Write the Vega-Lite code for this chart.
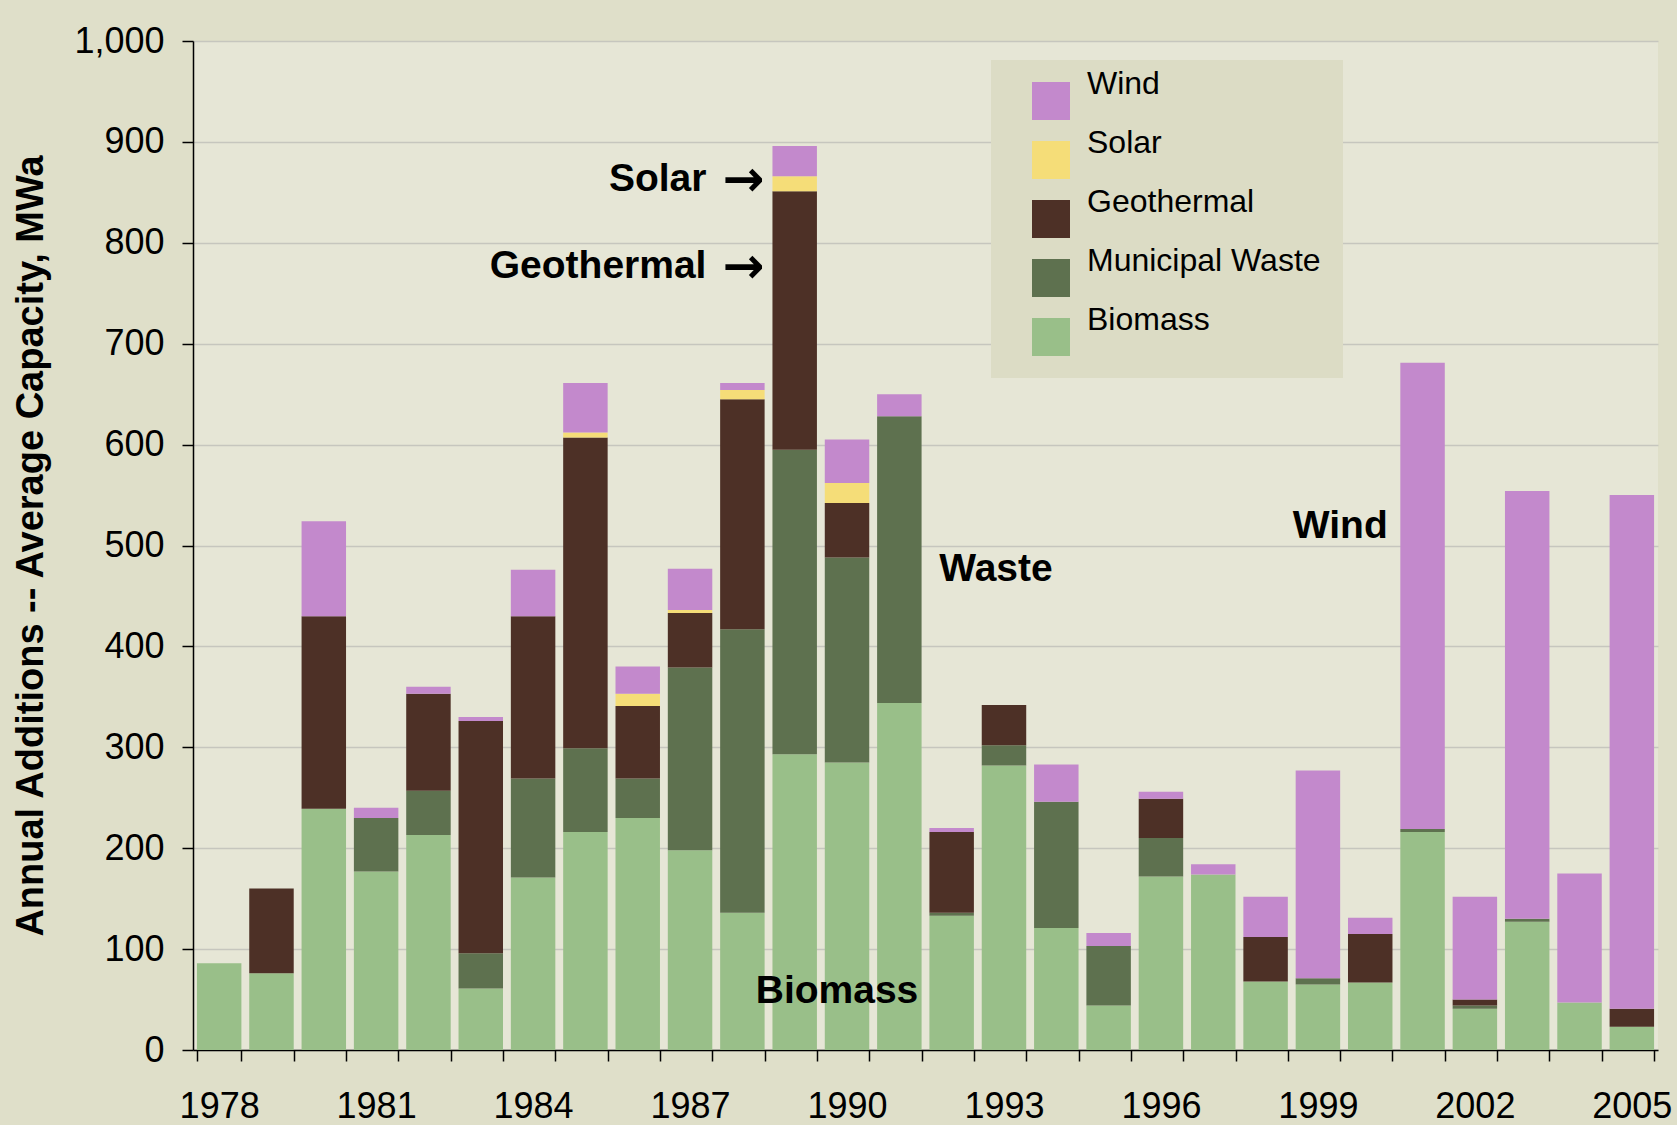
{
  "$schema": "https://vega.github.io/schema/vega-lite/v6.json",
  "width": 1465,
  "height": 1009,
  "autosize": {"type": "none"},
  "padding": {"left": 193, "top": 41, "right": 19, "bottom": 75},
  "background": "#dfdfc9",
  "config": {
    "view": {"fill": "#e6e6d6", "stroke": null},
    "font": "Liberation Sans",
    "axis": {"labelFont": "Liberation Sans", "titleFont": "Liberation Sans", "labelColor": "black", "titleColor": "black"}
  },
  "datasets": {
    "energy": [
      {"year": "1978", "source": "Biomass", "value": 86},
      {"year": "1979", "source": "Biomass", "value": 76},
      {"year": "1979", "source": "Geothermal", "value": 84},
      {"year": "1980", "source": "Biomass", "value": 239},
      {"year": "1980", "source": "Geothermal", "value": 191},
      {"year": "1980", "source": "Wind", "value": 94},
      {"year": "1981", "source": "Biomass", "value": 177},
      {"year": "1981", "source": "Municipal Waste", "value": 53},
      {"year": "1981", "source": "Wind", "value": 10},
      {"year": "1982", "source": "Biomass", "value": 213},
      {"year": "1982", "source": "Municipal Waste", "value": 44},
      {"year": "1982", "source": "Geothermal", "value": 96},
      {"year": "1982", "source": "Wind", "value": 7},
      {"year": "1983", "source": "Biomass", "value": 61},
      {"year": "1983", "source": "Municipal Waste", "value": 35},
      {"year": "1983", "source": "Geothermal", "value": 230},
      {"year": "1983", "source": "Wind", "value": 4},
      {"year": "1984", "source": "Biomass", "value": 171},
      {"year": "1984", "source": "Municipal Waste", "value": 98},
      {"year": "1984", "source": "Geothermal", "value": 161},
      {"year": "1984", "source": "Wind", "value": 46},
      {"year": "1985", "source": "Biomass", "value": 216},
      {"year": "1985", "source": "Municipal Waste", "value": 83},
      {"year": "1985", "source": "Geothermal", "value": 308},
      {"year": "1985", "source": "Solar", "value": 5},
      {"year": "1985", "source": "Wind", "value": 49},
      {"year": "1986", "source": "Biomass", "value": 230},
      {"year": "1986", "source": "Municipal Waste", "value": 39},
      {"year": "1986", "source": "Geothermal", "value": 72},
      {"year": "1986", "source": "Solar", "value": 12},
      {"year": "1986", "source": "Wind", "value": 27},
      {"year": "1987", "source": "Biomass", "value": 198},
      {"year": "1987", "source": "Municipal Waste", "value": 181},
      {"year": "1987", "source": "Geothermal", "value": 54},
      {"year": "1987", "source": "Solar", "value": 3},
      {"year": "1987", "source": "Wind", "value": 41},
      {"year": "1988", "source": "Biomass", "value": 136},
      {"year": "1988", "source": "Municipal Waste", "value": 281},
      {"year": "1988", "source": "Geothermal", "value": 228},
      {"year": "1988", "source": "Solar", "value": 9},
      {"year": "1988", "source": "Wind", "value": 7},
      {"year": "1989", "source": "Biomass", "value": 293},
      {"year": "1989", "source": "Municipal Waste", "value": 302},
      {"year": "1989", "source": "Geothermal", "value": 256},
      {"year": "1989", "source": "Solar", "value": 15},
      {"year": "1989", "source": "Wind", "value": 30},
      {"year": "1990", "source": "Biomass", "value": 285},
      {"year": "1990", "source": "Municipal Waste", "value": 203},
      {"year": "1990", "source": "Geothermal", "value": 54},
      {"year": "1990", "source": "Solar", "value": 20},
      {"year": "1990", "source": "Wind", "value": 43},
      {"year": "1991", "source": "Biomass", "value": 344},
      {"year": "1991", "source": "Municipal Waste", "value": 284},
      {"year": "1991", "source": "Wind", "value": 22},
      {"year": "1992", "source": "Biomass", "value": 133},
      {"year": "1992", "source": "Municipal Waste", "value": 3},
      {"year": "1992", "source": "Geothermal", "value": 80},
      {"year": "1992", "source": "Wind", "value": 4},
      {"year": "1993", "source": "Biomass", "value": 282},
      {"year": "1993", "source": "Municipal Waste", "value": 20},
      {"year": "1993", "source": "Geothermal", "value": 40},
      {"year": "1994", "source": "Biomass", "value": 121},
      {"year": "1994", "source": "Municipal Waste", "value": 125},
      {"year": "1994", "source": "Wind", "value": 37},
      {"year": "1995", "source": "Biomass", "value": 44},
      {"year": "1995", "source": "Municipal Waste", "value": 59},
      {"year": "1995", "source": "Wind", "value": 13},
      {"year": "1996", "source": "Biomass", "value": 172},
      {"year": "1996", "source": "Municipal Waste", "value": 38},
      {"year": "1996", "source": "Geothermal", "value": 39},
      {"year": "1996", "source": "Wind", "value": 7},
      {"year": "1997", "source": "Biomass", "value": 174},
      {"year": "1997", "source": "Wind", "value": 10},
      {"year": "1998", "source": "Biomass", "value": 68},
      {"year": "1998", "source": "Geothermal", "value": 44},
      {"year": "1998", "source": "Wind", "value": 40},
      {"year": "1999", "source": "Biomass", "value": 65},
      {"year": "1999", "source": "Municipal Waste", "value": 6},
      {"year": "1999", "source": "Wind", "value": 206},
      {"year": "2000", "source": "Biomass", "value": 67},
      {"year": "2000", "source": "Geothermal", "value": 48},
      {"year": "2000", "source": "Wind", "value": 16},
      {"year": "2001", "source": "Biomass", "value": 216},
      {"year": "2001", "source": "Municipal Waste", "value": 3},
      {"year": "2001", "source": "Wind", "value": 462},
      {"year": "2002", "source": "Biomass", "value": 41},
      {"year": "2002", "source": "Municipal Waste", "value": 3},
      {"year": "2002", "source": "Geothermal", "value": 6},
      {"year": "2002", "source": "Wind", "value": 102},
      {"year": "2003", "source": "Biomass", "value": 127},
      {"year": "2003", "source": "Municipal Waste", "value": 3},
      {"year": "2003", "source": "Wind", "value": 424},
      {"year": "2004", "source": "Biomass", "value": 47},
      {"year": "2004", "source": "Wind", "value": 128},
      {"year": "2005", "source": "Biomass", "value": 23},
      {"year": "2005", "source": "Geothermal", "value": 18},
      {"year": "2005", "source": "Wind", "value": 509}
    ],
    "notes": [
      {"year": "1989", "value": 863, "label": "Solar"},
      {"year": "1989", "value": 777.5, "label": "Geothermal"},
      {"year": "1993", "value": 477, "label": "Waste"},
      {"year": "2000", "value": 519, "label": "Wind"},
      {"year": "1990", "value": 58, "label": "Biomass"}
    ]
  },
  "layer": [
    {
      "data": {"name": "energy"},
      "transform": [
        {"calculate": "indexof(['Biomass', 'Municipal Waste', 'Geothermal', 'Solar', 'Wind'], datum.source)", "as": "stackRank"}
      ],
      "mark": {"type": "bar"},
      "encoding": {
        "x": {
          "field": "year",
          "type": "ordinal",
          "scale": {"paddingInner": 0.15, "paddingOuter": 0.075},
          "axis": {
            "title": null,
            "labelAngle": 0,
            "labelFontSize": 36,
            "labelPadding": 28,
            "labelOverlap": false,
            "tickSize": 11,
            "tickBand": "extent",
            "tickColor": "black",
            "tickWidth": 1.5,
            "domainColor": "black",
            "domainWidth": 1.5,
            "grid": false,
            "labelExpr": "(+datum.value - 1978) % 3 == 0 ? datum.value : ''"
          }
        },
        "y": {
          "field": "value",
          "type": "quantitative",
          "stack": "zero",
          "scale": {"domain": [0, 1000], "nice": false},
          "axis": {
            "title": "Annual Additions -- Average Capacity, MWa",
            "titleFontSize": 38,
            "titleFontWeight": "bold",
            "titlePadding": 23,
            "labelFontSize": 36,
            "labelPadding": 18,
            "format": ",.0f",
            "values": [0, 100, 200, 300, 400, 500, 600, 700, 800, 900, 1000],
            "tickSize": 11,
            "tickColor": "black",
            "tickWidth": 1.5,
            "domainColor": "black",
            "domainWidth": 1.5,
            "gridColor": "#c6c6be",
            "gridWidth": 1.5
          }
        },
        "order": {"field": "stackRank", "type": "quantitative", "sort": "ascending"},
        "color": {
          "field": "source",
          "type": "nominal",
          "scale": {
            "domain": ["Wind", "Solar", "Geothermal", "Municipal Waste", "Biomass"],
            "range": ["#c389cc", "#f5dd78", "#4d3026", "#5e714f", "#99bf89"]
          },
          "legend": {
            "title": null,
            "orient": "none",
            "legendX": 798,
            "legendY": 19,
            "fillColor": "#dcdcc5",
            "padding": 22,
            "symbolType": "square",
            "symbolSize": 1444,
            "symbolStrokeWidth": 0,
            "symbolOpacity": 1,
            "symbolOffset": 19,
            "labelFontSize": 32,
            "labelFont": "Liberation Sans",
            "labelColor": "black",
            "labelBaseline": "bottom",
            "labelOffset": 17,
            "labelLimit": 400,
            "rowPadding": 7,
            "values": ["Wind", "Solar", "Geothermal", "Municipal Waste", "Biomass"]
          }
        }
      }
    },
    {
      "data": {"name": "notes"},
      "transform": [{"filter": "datum.label == 'Solar' || datum.label == 'Geothermal'"}],
      "mark": {"type": "text", "align": "right", "baseline": "middle", "dx": -66, "font": "Liberation Sans", "fontSize": 39, "fontWeight": "bold", "color": "black"},
      "encoding": {
        "x": {"field": "year", "type": "ordinal", "bandPosition": 0},
        "y": {"field": "value", "type": "quantitative"},
        "text": {"field": "label"}
      }
    },
    {
      "data": {"name": "notes"},
      "transform": [{"filter": "datum.label == 'Solar' || datum.label == 'Geothermal'"}],
      "mark": {"type": "text", "align": "right", "baseline": "middle", "dx": -8, "dy": 2, "font": "DejaVu Sans", "fontSize": 50, "fontWeight": "bold", "color": "black"},
      "encoding": {
        "x": {"field": "year", "type": "ordinal", "bandPosition": 0},
        "y": {"field": "value", "type": "quantitative"},
        "text": {"value": "→"}
      }
    },
    {
      "data": {"name": "notes"},
      "transform": [{"filter": "datum.label == 'Waste'"}],
      "mark": {"type": "text", "align": "center", "baseline": "middle", "dx": -8, "font": "Liberation Sans", "fontSize": 39, "fontWeight": "bold", "color": "black"},
      "encoding": {
        "x": {"field": "year", "type": "ordinal"},
        "y": {"field": "value", "type": "quantitative"},
        "text": {"field": "label"}
      }
    },
    {
      "data": {"name": "notes"},
      "transform": [{"filter": "datum.label == 'Wind'"}],
      "mark": {"type": "text", "align": "center", "baseline": "middle", "dx": -30, "font": "Liberation Sans", "fontSize": 39, "fontWeight": "bold", "color": "black"},
      "encoding": {
        "x": {"field": "year", "type": "ordinal"},
        "y": {"field": "value", "type": "quantitative"},
        "text": {"field": "label"}
      }
    },
    {
      "data": {"name": "notes"},
      "transform": [{"filter": "datum.label == 'Biomass'"}],
      "mark": {"type": "text", "align": "center", "baseline": "middle", "dx": -10, "font": "Liberation Sans", "fontSize": 39, "fontWeight": "bold", "color": "black"},
      "encoding": {
        "x": {"field": "year", "type": "ordinal"},
        "y": {"field": "value", "type": "quantitative"},
        "text": {"field": "label"}
      }
    }
  ]
}
